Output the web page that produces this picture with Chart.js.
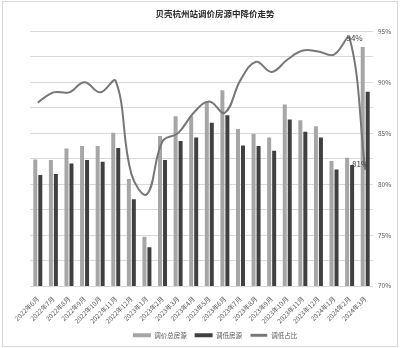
<!DOCTYPE html>
<html>
<head>
<meta charset="utf-8">
<script src="https://cdn.jsdelivr.net/npm/chart.js@4"></script>
<style>
  html, body { margin: 0; padding: 0; background: #fff; }
  #grafico { display: block; }
</style>
</head>
<body>
<canvas id="grafico" width="400" height="348"></canvas>
<script>
var meses = ["2022年6月", "2022年7月", "2022年8月", "2022年9月", "2022年10月", "2022年11月", "2022年12月",
  "2023年1月", "2023年2月", "2023年3月", "2023年4月", "2023年5月", "2023年6月", "2023年7月", "2023年8月",
  "2023年9月", "2023年10月", "2023年11月", "2023年12月", "2024年1月", "2024年2月", "2024年3月"];

// 调价总房源 / 调低房源 (hidden axis, relative units)
var totalAjuste = [1267, 1260, 1377, 1400, 1400, 1533, 1070, 493, 1500, 1700, 1700, 1843, 1960, 1570, 1520, 1487, 1817, 1660, 1600, 1250, 1283, 2393];
var totalBaixa = [1110, 1120, 1227, 1260, 1243, 1380, 867, 387, 1260, 1450, 1487, 1633, 1710, 1407, 1400, 1353, 1667, 1543, 1487, 1167, 1210, 1943];
// 调低占比 (%)
var percBaixa = [88.0, 89.0, 89.0, 90.0, 89.0, 90.1, 81.0, 79.0, 84.2, 85.0, 87.0, 88.1, 87.0, 90.2, 92.0, 91.0, 92.2, 93.1, 93.0, 92.7, 94.3, 81.4];
var rotulados = [20, 21]; // pontos com rótulo

var fonte = "'Noto Sans CJK SC', 'Noto Sans', sans-serif";

var moldura = {
  id: 'moldura',
  beforeDraw: function(chart){
    var ctx = chart.ctx;
    ctx.save();
    ctx.strokeStyle = '#d9d9d9';
    ctx.lineWidth = 1;
    ctx.strokeRect(2.5, 1.5, 395, 345);
    ctx.restore();
  }
};

var rotulos = {
  id: 'rotulos',
  afterDatasetsDraw: function(chart){
    var ctx = chart.ctx;
    var meta = chart.getDatasetMeta(2);
    var desloc = { 20: [5, 0], 21: [-5, -6] };
    ctx.save();
    ctx.font = '8px ' + fonte;
    ctx.fillStyle = '#404040';
    ctx.textAlign = 'center';
    ctx.textBaseline = 'middle';
    rotulados.forEach(function(i){
      var p = meta.data[i];
      var d = desloc[i] || [0, 0];
      ctx.fillText(Math.round(percBaixa[i]) + '%', p.x + d[0], p.y + d[1]);
    });
    ctx.restore();
  }
};

var grafico = new Chart(document.getElementById('grafico').getContext('2d'), {
  type: 'bar',
  data: {
    labels: meses,
    datasets: [
      { label: '调价总房源', data: totalAjuste, backgroundColor: '#a6a6a6', yAxisID: 'yBar', order: 1,
        categoryPercentage: 0.64, barPercentage: 0.8 },
      { label: '调低房源', data: totalBaixa, backgroundColor: '#404040', yAxisID: 'yBar', order: 2,
        categoryPercentage: 0.64, barPercentage: 0.8 },
      { type: 'line', label: '调低占比', data: percBaixa, borderColor: '#777777', backgroundColor: '#777777',
        borderWidth: 2, pointRadius: 0, tension: 0.4, yAxisID: 'y', order: 0 }
    ]
  },
  options: {
    responsive: false,
    animation: false,
    devicePixelRatio: 1,
    layout: { padding: { left: 30, right: 0, top: 0, bottom: 0 } },
    plugins: {
      title: {
        display: true,
        text: '贝壳杭州站调价房源中降价走势',
        color: '#262626',
        font: { family: fonte, size: 8.5, weight: 'bold' },
        padding: { top: 9, bottom: 12 }
      },
      legend: {
        position: 'bottom',
        maxHeight: 24,
        sort: function(a, b){ return a.datasetIndex - b.datasetIndex; },
        labels: {
          color: '#595959',
          font: { family: fonte, size: 6.5 },
          boxWidth: 18,
          boxHeight: 4,
          padding: 8,
          generateLabels: function(chart){
            return chart.data.datasets.map(function(ds, i){
              var linha = ds.type === 'line';
              return {
                text: ds.label,
                fillStyle: linha ? ds.borderColor : ds.backgroundColor,
                strokeStyle: '#ffffff',
                lineWidth: linha ? 1.2 : 0,
                fontColor: '#595959',
                datasetIndex: i
              };
            });
          }
        }
      },
      tooltip: { enabled: false }
    },
    scales: {
      x: {
        grid: { display: false },
        border: { display: false },
        ticks: {
          color: '#595959',
          font: { family: fonte, size: 6.5 },
          minRotation: 45,
          maxRotation: 45,
          autoSkip: false,
          padding: 1
        },
        afterFit: function(s){ s.height = 38; }
      },
      yBar: {
        display: false,
        position: 'left',
        min: 0,
        max: 2550
      },
      y: {
        position: 'right',
        min: 70,
        max: 95,
        grid: { color: '#d9d9d9', lineWidth: 1, drawTicks: false },
        border: { display: false },
        ticks: {
          stepSize: 2.5,
          color: '#595959',
          font: { family: fonte, size: 6.5 },
          padding: 5,
          callback: function(v){ return v % 5 === 0 ? v + '%' : ''; }
        },
        afterFit: function(s){ s.width = 27; }
      }
    }
  },
  plugins: [moldura, rotulos]
});
</script>
</body>
</html>
